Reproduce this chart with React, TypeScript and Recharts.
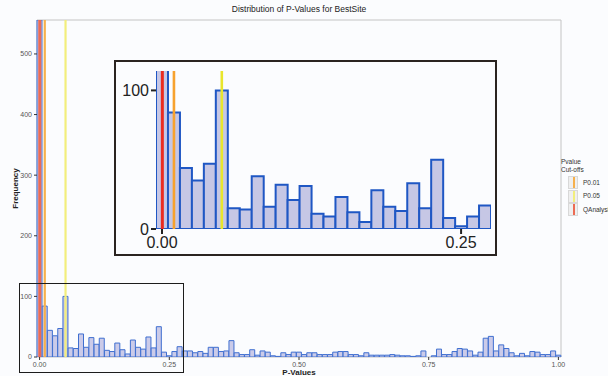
import { BarChart, Bar, XAxis, YAxis, ReferenceLine, ReferenceArea } from 'recharts'

// histogram of p-values, bins of width 0.01 centred on 0.00 ... 1.00
const BIN_WIDTH = 0.01
const counts = [
  556, 84, 44, 35, 47, 100, 15, 14, 38, 16,
  32, 21, 31, 11, 9, 23, 12, 5, 28, 16,
  13, 33, 15, 50, 8, 2, 9, 17, 10, 10,
  7, 9, 6, 16, 16, 9, 10, 27, 7, 4,
  4, 12, 3, 10, 8, 2, 1, 7, 4, 8,
  8, 4, 7, 7, 4, 4, 4, 8, 9, 9,
  4, 4, 2, 7, 3, 3, 3, 3, 4, 3,
  2, 2, 1, 2, 10, 0, 2, 13, 4, 4,
  9, 14, 13, 10, 3, 8, 31, 34, 10, 20,
  14, 7, 2, 6, 2, 9, 8, 4, 4, 10,
  3,
]

const cutoffNames = ['P0.01', 'P0.05', 'QAnalysis']
const cutoffValues = [0.01, 0.05, 0.0003]
const mainLineColors = ['#f6b04c', '#f2ee7c', '#ec6b54']
const insetLineColors = ['#f7a22e', '#e9e62c', '#ea2b20']

const mainXTicks = [0, 0.25, 0.5, 0.75, 1]
const mainYTicks = [0, 100, 200, 300, 400, 500]
const insetXTicks = [0, 0.25]
const insetYTicks = [0, 100]

const bins = counts.map((count, i) => ({ p: +(i * BIN_WIDTH).toFixed(2), count }))
const insetBins = bins.filter((b) => b.p <= 0.275)

const font = '"Liberation Sans", Arial, sans-serif'
const bg = '#fbfcfe'
const fmt = (v: number) => v.toFixed(2)

function CutoffLegend() {
  return (
    <div style={{ position: 'absolute', left: 561, top: 158, fontSize: 6.5, color: '#333', lineHeight: '8px' }}>
      <div>Pvalue</div>
      <div style={{ marginBottom: 2 }}>Cut-offs</div>
      {cutoffNames.map((name, i) => (
        <div key={name} style={{ display: 'flex', alignItems: 'center', height: 13.5 }}>
          <div style={{ width: 10, height: 13, background: '#efefef', border: '0.5px solid #d8d8d8', marginLeft: 7, position: 'relative', boxSizing: 'border-box' }}>
            <div style={{ position: 'absolute', left: 3.5, top: 0, width: 2, height: '100%', background: mainLineColors[i] }} />
          </div>
          <span style={{ marginLeft: 5, whiteSpace: 'nowrap' }}>{name}</span>
        </div>
      ))}
    </div>
  )
}

export default function App() {
  return (
    <div style={{ position: 'absolute', left: 0, top: 0, width: 608, height: 376, background: bg, fontFamily: font, overflow: 'hidden' }}>
      <div style={{ position: 'absolute', top: 4, left: 37, width: 524, textAlign: 'center', fontSize: 8.5, color: '#222' }}>
        Distribution of P-Values for BestSite
      </div>

      <BarChart width={608} height={376} data={bins} margin={{ top: 20, right: 47, bottom: 0, left: 0 }} barCategoryGap={0} barGap={0}>
        <ReferenceArea x1={-0.005} x2={1.005} y1={0} y2={556} fill="none" stroke="#c4c4c4" strokeWidth={1} />
        <XAxis
          dataKey="p"
          type="number"
          domain={[-0.005, 1.005]}
          ticks={mainXTicks}
          tickFormatter={fmt}
          height={19}
          axisLine={false}
          tickSize={3}
          tickLine={{ stroke: '#333' }}
          tick={{ fontSize: 7, fill: '#555', fontFamily: font }}
          label={{ value: 'P-Values', position: 'insideBottom', offset: 1, style: { fontSize: 8, fontWeight: 'bold', fill: '#222', fontFamily: font } }}
        />
        <YAxis
          type="number"
          domain={[0, 556]}
          allowDataOverflow
          ticks={mainYTicks}
          width={37}
          axisLine={false}
          tickSize={3}
          tickLine={{ stroke: '#333' }}
          tick={{ fontSize: 7, fill: '#555', fontFamily: font }}
          label={{ value: 'Frequency', angle: -90, position: 'insideLeft', offset: 15, style: { textAnchor: 'middle', fontSize: 8, fontWeight: 'bold', fill: '#222', fontFamily: font } }}
        />
        <Bar dataKey="count" fill="#cbcbe9" stroke="#3f6fd0" strokeWidth={1} isAnimationActive={false} />
        {cutoffValues.map((v, i) => (
          <ReferenceLine key={cutoffNames[i]} x={v} stroke={mainLineColors[i]} strokeWidth={i === 2 ? 3 : 2.2} />
        ))}
      </BarChart>

      {/* box marking the zoomed region */}
      <div style={{ position: 'absolute', left: 19, top: 283, width: 165, height: 90, border: '1.5px solid #1c1c1c', boxSizing: 'border-box' }} />

      {/* inset: first 0.27 of the p-value range */}
      <div style={{ position: 'absolute', left: 114, top: 60, width: 383, height: 196, border: '2px solid #2a2420', boxSizing: 'border-box', background: bg }}>
        <BarChart width={379} height={192} data={insetBins} margin={{ top: 9, right: 4, bottom: 0, left: 0 }} barCategoryGap={0} barGap={0}>
          <XAxis
            dataKey="p"
            type="number"
            domain={[-0.005, 0.275]}
            allowDataOverflow
            ticks={insetXTicks}
            tickFormatter={fmt}
            height={25}
            axisLine={false}
            tickSize={5}
            tickMargin={3}
            tickLine={{ stroke: '#222', strokeWidth: 2 }}
            tick={{ fontSize: 16, fill: '#222', fontFamily: font }}
          />
          <YAxis
            type="number"
            domain={[0, 114]}
            allowDataOverflow
            ticks={insetYTicks}
            width={40}
            axisLine={false}
            tickSize={5}
            tickMargin={2}
            tickLine={{ stroke: '#222', strokeWidth: 2 }}
            tick={{ fontSize: 16, fill: '#222', fontFamily: font }}
          />
          <Bar dataKey="count" fill="#c6c7e5" stroke="#1f57c4" strokeWidth={2} isAnimationActive={false} />
          {cutoffValues.map((v, i) => (
            <ReferenceLine key={cutoffNames[i]} x={v} stroke={insetLineColors[i]} strokeWidth={i === 2 ? 3 : 2.6} />
          ))}
        </BarChart>
      </div>

      <CutoffLegend />
    </div>
  )
}
